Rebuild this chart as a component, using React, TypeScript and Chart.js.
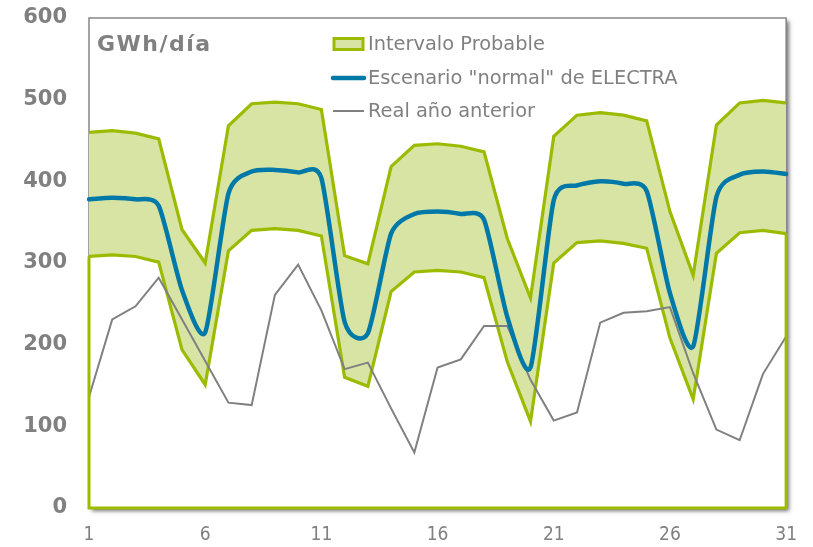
import React, { useEffect, useRef } from 'react';
import { Chart, registerables } from 'chart.js';
Chart.register(...registerables);

const days = ['1','2','3','4','5','6','7','8','9','10','11','12','13','14','15','16','17','18','19','20','21','22','23','24','25','26','27','28','29','30','31'];
const upperBand = [460, 462, 459, 452, 341, 300, 468, 495, 497, 495, 488, 309, 299, 418, 444, 446, 443, 436, 330, 257, 455, 481, 484, 481, 474, 363, 285, 469, 496, 499, 496];
const lowerBand = [308, 310, 308, 301, 194, 151, 315, 340, 342, 340, 333, 160, 149, 265, 289, 291, 289, 282, 179, 106, 300, 325, 327, 324, 318, 208, 133, 312, 337, 340, 336];
const normalScenario = [378, 380, 378, 370, 267, 215, 385, 412, 414, 411, 404, 228, 214, 336, 360, 363, 360, 353, 234, 172, 377, 395, 400, 397, 388, 263, 198, 381, 408, 412, 409];
const previousYear = [136, 231, 247, 282, 231, 180, 129, 126, 261, 298, 242, 170, 178, 122, 68, 172, 182, 223, 223, 157, 107, 117, 227, 239, 241, 246, 165, 96, 83, 164, 210];
const yTicks = [0, 100, 200, 300, 400, 500, 600];

const GREEN = 'rgb(155,187,0)';
const FILL = 'rgb(216,228,164)';
const BLUE = 'rgb(0,121,168)';
const GREY = 'rgb(128,128,128)';
const TEXT = 'rgb(128,128,128)';

// Excel-like symmetric smoothing for the scenario line
const SMOOTH = 1 / 9;
const smoothPlugin = {
  id: 'excelSmooth',
  beforeDatasetDraw(chart: any, args: any) {
    if (args.index !== 0) return;
    const meta = args.meta;
    const line = meta.dataset;
    if (line && line.updateControlPoints) line.updateControlPoints(chart.chartArea, meta.indexAxis || 'x');
    const pts = meta.data;
    const n = pts.length;
    for (let i = 0; i < n; i++) {
      const p = pts[i];
      const p0 = pts[Math.max(0, i - 1)];
      const p2 = pts[Math.min(n - 1, i + 1)];
      const dx = (p2.x - p0.x) * SMOOTH;
      const dy = (p2.y - p0.y) * SMOOTH;
      p.cp1x = p.x - dx;
      p.cp1y = p.y - dy;
      p.cp2x = p.x + dx;
      p.cp2y = p.y + dy;
    }
  },
};

const framePlugin = {
  id: 'frame',
  beforeDraw(chart: any) {
    const { ctx, chartArea: a } = chart;
    ctx.save();
    ctx.fillStyle = '#fff';
    ctx.shadowColor = 'rgba(0,0,0,0.55)';
    ctx.shadowBlur = 4;
    ctx.shadowOffsetX = 3;
    ctx.shadowOffsetY = 3;
    ctx.fillRect(a.left, a.top, a.right - a.left, a.bottom - a.top);
    ctx.restore();
    ctx.save();
    ctx.strokeStyle = 'rgb(134,134,134)';
    ctx.lineWidth = 1.5;
    ctx.strokeRect(a.left, a.top, a.right - a.left, a.bottom - a.top);
    ctx.restore();
  },
  afterDatasetsDraw(chart: any) {
    const { ctx, chartArea: a, scales } = chart;
    const y0 = scales.y.getPixelForValue(0);
    const yl = scales.y.getPixelForValue(lowerBand[0]);
    const yr = scales.y.getPixelForValue(lowerBand[lowerBand.length - 1]);
    ctx.save();
    ctx.strokeStyle = GREEN;
    ctx.lineWidth = 3;
    ctx.lineJoin = 'miter';
    ctx.beginPath();
    ctx.moveTo(a.left, yl);
    ctx.lineTo(a.left, y0);
    ctx.lineTo(a.right, y0);
    ctx.lineTo(a.right, yr);
    ctx.stroke();
    ctx.restore();
  },
  afterDraw(chart: any) {
    const { ctx } = chart;
    ctx.save();
    ctx.fillStyle = TEXT;
    ctx.font = 'bold 22px "DejaVu Sans", Verdana, sans-serif';
    (ctx as any).letterSpacing = '1.5px';
    ctx.textBaseline = 'middle';
    ctx.textAlign = 'left';
    ctx.fillText('GWh/día', 97, 45);
    (ctx as any).letterSpacing = '0px';
    const items = [
      { label: 'Intervalo Probable', kind: 'box' },
      { label: 'Escenario "normal" de ELECTRA', kind: 'blue' },
      { label: 'Real año anterior', kind: 'grey' },
    ];
    const rows = [44, 78, 111];
    ctx.font = '19.4px "DejaVu Sans", Verdana, sans-serif';
    items.forEach((it, i) => {
      const y = rows[i];
      if (it.kind === 'box') {
        ctx.fillStyle = FILL;
        ctx.fillRect(334, y - 5.5, 29, 11);
        ctx.strokeStyle = GREEN;
        ctx.lineWidth = 3;
        ctx.strokeRect(334, y - 5.5, 29, 11);
      } else {
        ctx.strokeStyle = it.kind === 'blue' ? BLUE : GREY;
        ctx.lineWidth = it.kind === 'blue' ? 4.5 : 2;
        ctx.lineCap = it.kind === 'blue' ? 'round' : 'butt';
        ctx.beginPath();
        ctx.moveTo(333, y);
        ctx.lineTo(364, y);
        ctx.stroke();
      }
      ctx.fillStyle = TEXT;
      ctx.fillText(it.label, 368, y + 1);
    });
    ctx.restore();
  },
};

export default function App() {
  const ref = useRef<HTMLCanvasElement | null>(null);
  useEffect(() => {
    if (!ref.current) return;
    const chart = new Chart(ref.current, {
      type: 'line',
      data: {
        labels: days,
        datasets: [
          { label: 'Escenario "normal" de ELECTRA', data: normalScenario, borderColor: BLUE, borderWidth: 4.5, tension: 0.3, pointRadius: 0, fill: false, borderCapStyle: 'round', borderJoinStyle: 'round', order: 0 },
          { label: 'Real año anterior', data: previousYear, borderColor: GREY, borderWidth: 2, tension: 0, pointRadius: 0, fill: false, order: 1 },
          { label: 'Intervalo Probable', data: upperBand, borderColor: GREEN, borderWidth: 3.2, tension: 0, pointRadius: 0, fill: '+1', backgroundColor: FILL, order: 3 },
          { label: 'Intervalo inferior', data: lowerBand, borderColor: GREEN, borderWidth: 3.2, tension: 0, pointRadius: 0, fill: false, order: 2 },
        ],
      },
      options: {
        animation: false,
        responsive: false,
        maintainAspectRatio: false,
        layout: { padding: { left: 0, right: 20, top: 18, bottom: 0 } },
        plugins: { legend: { display: false }, tooltip: { enabled: false } },
        scales: {
          x: {
            type: 'category',
            offset: false,
            grid: { display: false, drawTicks: false },
            border: { display: false },
            afterFit: (s: any) => { s.height = 39; },
            ticks: {
              autoSkip: false,
              maxRotation: 0,
              padding: 16,
              color: TEXT,
              font: { family: '"DejaVu Sans Condensed", "DejaVu Sans", sans-serif', size: 19 },
              callback: (v: any, i: number) => (i % 5 === 0 ? days[i] : ''),
            },
          },
          y: {
            min: 0,
            max: 600,
            grid: { display: false, drawTicks: false },
            border: { display: false },
            afterFit: (s: any) => { s.width = 89; s.paddingTop = 0; s.paddingBottom = 0; },
            afterBuildTicks: (s: any) => { s.ticks = yTicks.map((v) => ({ value: v })); },
            ticks: {
              padding: 22,
              color: TEXT,
              font: { family: '"DejaVu Sans", Verdana, sans-serif', size: 21, weight: 'bold' },
            },
          },
        },
      },
      plugins: [framePlugin, smoothPlugin],
    } as any);
    return () => chart.destroy();
  }, []);
  return (
    <div style={{ position: 'fixed', left: 0, top: 0, width: 813, height: 547, background: '#fff' }}>
      <canvas ref={ref} width={813} height={547} style={{ width: 813, height: 547, display: 'block' }} />
    </div>
  );
}
